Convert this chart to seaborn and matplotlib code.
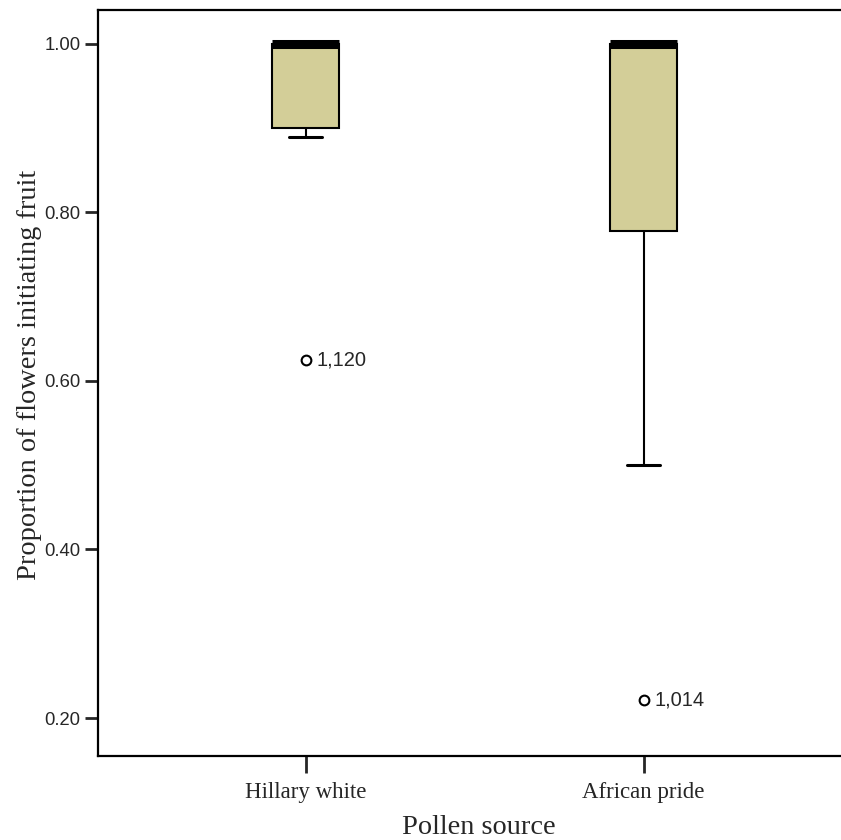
import numpy as np
import pandas as pd
import matplotlib
matplotlib.use("Agg")
import matplotlib.pyplot as plt
import seaborn as sns

# values
sources = ["Hillary white", "African pride"]
hillary_white = [0.625, 0.889, 0.900, 0.900, 1.0, 1.0, 1.0, 1.0, 1.0, 1.0, 1.0, 1.0]
african_pride = [0.222, 0.500, 0.778, 0.778, 1.0, 1.0, 1.0, 1.0, 1.0, 1.0, 1.0, 1.0]
outlier_ids = ["1,120", "1,014"]
yticks = [0.20, 0.40, 0.60, 0.80, 1.00]

df = pd.DataFrame({
    "source": [sources[0]] * len(hillary_white) + [sources[1]] * len(african_pride),
    "prop": hillary_white + african_pride,
})

sns.set_style("white")
plt.rcParams["font.family"] = ["Liberation Serif", "DejaVu Serif"]

fig = plt.figure(figsize=(8.41, 8.40), dpi=100)
ax = fig.add_axes([98 / 841, 84 / 840, 1 - 98 / 841, 746 / 840])

sns.boxplot(data=df, x="source", y="prop", order=sources, width=0.2,
            color="#d3ce98", saturation=1, linecolor="black", linewidth=1.5,
            whis=1.5, fliersize=7,
            flierprops=dict(marker="o", markerfacecolor="none",
                            markeredgecolor="black", markeredgewidth=1.5),
            medianprops=dict(linewidth=6.5, color="black", solid_capstyle="butt"),
            capprops=dict(linewidth=2.2),
            whiskerprops=dict(linewidth=1.5),
            ax=ax)

# label the outliers with their case ids
for i, vals in enumerate([hillary_white, african_pride]):
    q1, q3 = np.percentile(vals, [25, 75])
    lo = q1 - 1.5 * (q3 - q1)
    for v in vals:
        if v < lo:
            ax.annotate(outlier_ids[i], (i, v), xytext=(8, 0),
                        textcoords="offset points", va="center", ha="left",
                        fontsize=14.5, family="Liberation Sans")

ax.set_xlim(-0.614, 1.584)
ax.set_ylim(0.155, 1.040)
ax.set_yticks(yticks)
ax.set_yticklabels([f"{t:.2f}" for t in yticks], family="Liberation Sans", fontsize=13.3)
ax.tick_params(axis="x", labelsize=16.5, length=12, width=2, direction="out", pad=7, bottom=True)
ax.tick_params(axis="y", length=9.5, width=2, direction="out", pad=3, left=True)

ax.set_xlabel("Pollen source", fontsize=20.4, labelpad=8)
ax.set_ylabel("Proportion of flowers initiating fruit", fontsize=20.4, labelpad=2)
ax.xaxis.label.set_x(0.513)
ax.yaxis.label.set_y(0.511)

for s in ["left", "bottom", "top"]:
    ax.spines[s].set_linewidth(1.6)
    ax.spines[s].set_color("black")
ax.spines["right"].set_visible(False)

fig.savefig("out.png", dpi=100)
